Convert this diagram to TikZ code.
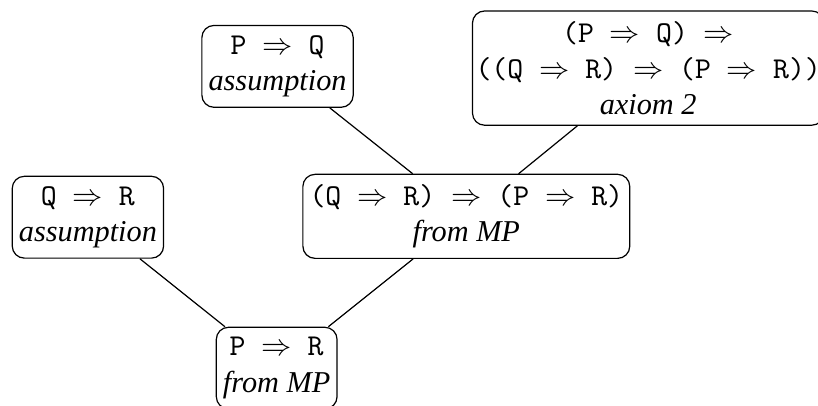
\documentclass[tikz,border=0pt]{standalone}
\usepackage{fontspec}
\setmainfont{Liberation Serif}
\begin{document}
\begin{tikzpicture}[stmt/.style={draw, rounded corners, align=center, inner xsep=2.2pt}]
  \useasboundingbox (0,0) rectangle (9.49,4.70);
  \node[stmt] (pq) at (3.22,3.93) {\texttt{P $\Rightarrow$ Q}\\\textit{assumption}};
  \node[stmt, inner xsep=1pt] (ax) at (7.52,3.91) {\texttt{(P $\Rightarrow$ Q) $\Rightarrow$}\\\texttt{((Q $\Rightarrow$ R) $\Rightarrow$ (P $\Rightarrow$ R))}\\\textit{axiom 2}};
  \node[stmt] (qr) at (1.02,2.18) {\texttt{Q $\Rightarrow$ R}\\\textit{assumption}};
  \node[stmt] (mp1) at (5.41,2.19) {\texttt{(Q $\Rightarrow$ R) $\Rightarrow$ (P $\Rightarrow$ R)}\\\textit{from MP}};
  \node[stmt] (pr) at (3.21,0.43) {\texttt{P $\Rightarrow$ R}\\\textit{from MP}};
  \draw (pq) -- (mp1);
  \draw (ax) -- (mp1);
  \draw (qr) -- (pr);
  \draw (mp1) -- (pr);
\end{tikzpicture}
\end{document}
